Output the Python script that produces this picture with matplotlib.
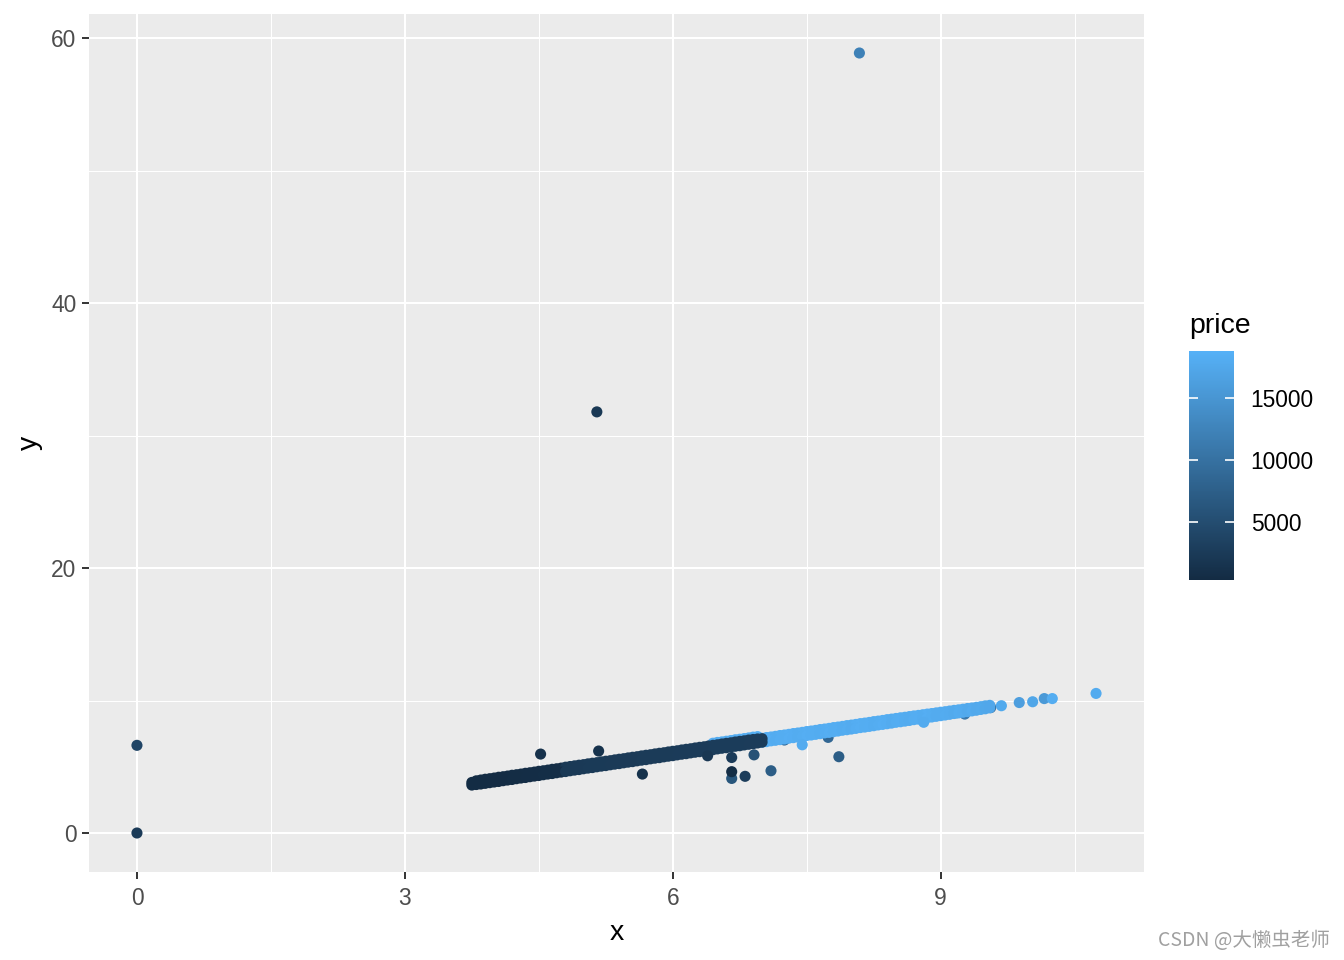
import matplotlib
matplotlib.use("Agg")
import matplotlib.pyplot as plt
from matplotlib.colors import LinearSegmentedColormap, Normalize
from matplotlib.cm import ScalarMappable

plt.rcParams["font.family"] = ["Liberation Sans", "DejaVu Sans"]

# --- data (x, y, price) ---

# medium-priced points peeking out under the light band
mid_x = [7.25, 7.74, 9.18, 9.27, 9.56]
mid_y = [7.02, 7.22, 9.08, 8.98, 9.47]
mid_price = [9000, 8500, 10000, 11000, 8000]

# expensive stones: x along the band, upper / lower edge y, price
light_x = [6.45, 6.50, 6.55, 6.60, 6.65, 6.70, 6.75, 6.80, 6.85, 6.90, 6.95,
           7.00, 7.05, 7.10, 7.15, 7.20, 7.25, 7.30, 7.35, 7.40, 7.45, 7.50,
           7.55, 7.60, 7.65, 7.70, 7.75, 7.80, 7.85, 7.90, 7.95, 8.00, 8.05,
           8.10, 8.15, 8.20, 8.25, 8.30, 8.35, 8.40, 8.45, 8.50, 8.55, 8.60,
           8.65, 8.70, 8.75, 8.80, 8.85, 8.90, 8.95, 9.00, 9.05, 9.10, 9.15,
           9.20, 9.25, 9.30, 9.35, 9.40, 9.45, 9.50, 9.55]
light_hi_y = [6.78, 6.84, 6.88, 6.93, 6.98, 7.04, 7.08, 7.13, 7.18, 7.24, 7.28,
              7.15, 7.21, 7.25, 7.30, 7.36, 7.40, 7.45, 7.51, 7.55, 7.60, 7.66,
              7.70, 7.75, 7.81, 7.85, 7.90, 7.96, 8.00, 8.05, 8.11, 8.15, 8.20,
              8.26, 8.30, 8.35, 8.41, 8.45, 8.50, 8.56, 8.60, 8.65, 8.70, 8.74,
              8.79, 8.84, 8.88, 8.93, 8.98, 9.02, 9.07, 9.12, 9.16, 9.21, 9.26,
              9.30, 9.35, 9.40, 9.44, 9.49, 9.54, 9.60, 9.64]
light_lo_y = [6.35, 6.40, 6.45, 6.50, 6.55, 6.60, 6.65, 6.70, 6.75, 6.80, 6.85,
              6.85, 6.90, 6.96, 7.00, 7.05, 7.10, 7.16, 7.20, 7.25, 7.30, 7.36,
              7.40, 7.45, 7.50, 7.56, 7.60, 7.65, 7.70, 7.76, 7.80, 7.85, 7.90,
              7.96, 8.00, 8.05, 8.10, 8.16, 8.20, 8.25, 8.30, 8.36, 8.40, 8.45,
              8.50, 8.56, 8.60, 8.65, 8.71, 8.76, 8.81, 8.86, 8.91, 8.96, 9.02,
              9.07, 9.12, 9.17, 9.22, 9.27, 9.33, 9.38, 9.45]
light_price = [18300, 18100, 18400, 18200, 18300, 18000, 18400, 18200, 18300,
               18100, 18500, 18200, 18300, 18400, 18100, 18300, 18200, 18400,
               18300, 18100, 18200, 18400, 18300, 18200, 18100, 18300, 18400,
               18200, 18300, 18100, 18200, 18000, 18300, 18400, 18200, 18300,
               18100, 18200, 18400, 18300, 18000, 18200, 18300, 18100, 18000,
               18200, 18300, 18100, 18400, 18200, 18000, 17900, 18100, 18000,
               17800, 18100, 17900, 17700, 17900, 17600, 17800, 17500, 17400]

# cheap stones: x along the band, upper / lower edge y, price
dark_x = [3.75, 3.80, 3.85, 3.90, 3.95, 4.00, 4.05, 4.10, 4.15, 4.20, 4.25,
          4.30, 4.35, 4.40, 4.45, 4.50, 4.55, 4.60, 4.65, 4.70, 4.75, 4.80,
          4.85, 4.90, 4.95, 5.00, 5.05, 5.10, 5.15, 5.20, 5.25, 5.30, 5.35,
          5.40, 5.45, 5.50, 5.55, 5.60, 5.65, 5.70, 5.75, 5.80, 5.85, 5.90,
          5.95, 6.00, 6.05, 6.10, 6.15, 6.20, 6.25, 6.30, 6.35, 6.40, 6.45,
          6.50, 6.55, 6.60, 6.65, 6.70, 6.75, 6.80, 6.85, 6.90, 6.95, 7.00]
dark_hi_y = [3.82, 3.94, 4.00, 4.06, 4.10, 4.15, 4.21, 4.25, 4.30, 4.36, 4.40,
             4.45, 4.51, 4.55, 4.60, 4.66, 4.70, 4.75, 4.81, 4.85, 4.90, 4.97,
             5.02, 5.07, 5.12, 5.16, 5.22, 5.27, 5.31, 5.37, 5.42, 5.46, 5.52,
             5.57, 5.61, 5.67, 5.72, 5.76, 5.82, 5.87, 5.91, 5.97, 6.02, 6.06,
             6.12, 6.17, 6.21, 6.27, 6.32, 6.36, 6.42, 6.47, 6.51, 6.57, 6.62,
             6.66, 6.72, 6.77, 6.81, 6.87, 6.92, 6.96, 7.02, 7.06, 7.10, 7.12]
dark_lo_y = [3.62, 3.66, 3.70, 3.75, 3.80, 3.85, 3.89, 3.95, 4.00, 4.04, 4.10,
             4.15, 4.19, 4.25, 4.30, 4.34, 4.40, 4.45, 4.49, 4.55, 4.60, 4.64,
             4.70, 4.75, 4.79, 4.85, 4.90, 4.94, 5.00, 5.05, 5.09, 5.15, 5.20,
             5.24, 5.30, 5.35, 5.39, 5.45, 5.50, 5.54, 5.60, 5.65, 5.69, 5.75,
             5.80, 5.84, 5.90, 5.95, 5.99, 6.05, 6.10, 6.14, 6.20, 6.25, 6.29,
             6.35, 6.40, 6.44, 6.50, 6.55, 6.59, 6.65, 6.70, 6.74, 6.80, 6.86]
dark_price = [400, 410, 430, 450, 460, 480, 500, 520, 540, 560, 580,
              600, 620, 640, 660, 680, 700, 720, 740, 770, 800,
              2250, 2270, 2300, 2320, 2340, 2360, 2380, 2400, 2410, 2420,
              2430, 2440, 2450, 2460, 2470, 2480, 2490, 2500, 2500, 2510,
              2520, 2530, 2540, 2550, 2560, 2570, 2580, 2590, 2600, 2600,
              2610, 2620, 2630, 2640, 2650, 2660, 2670, 2680, 2690, 2700,
              2710, 2720, 2730, 2740, 2750]

# stray points off the main band
out_x = [0.00, 0.00, 5.15, 8.09, 4.52, 5.17, 5.66, 6.39, 6.66, 6.66, 6.66,
         6.81, 6.91, 7.10, 7.45, 7.86, 8.81, 9.68, 9.88, 10.03, 10.16, 10.25, 10.74]
out_y = [0.00, 6.62, 31.80, 58.90, 5.96, 6.19, 4.45, 5.83, 5.70, 4.12, 4.63,
         4.28, 5.90, 4.70, 6.66, 5.76, 8.36, 9.61, 9.85, 9.91, 10.15, 10.15, 10.54]
out_price = [2500, 4000, 2075, 12210, 1200, 1300, 1300, 2000, 2600, 6200, 600,
             2800, 5600, 7200, 18000, 7200, 18000, 17800, 16200, 17300, 15500,
             18200, 18000]

PRICE_MIN, PRICE_MAX = 326, 18823

gg_blue = LinearSegmentedColormap.from_list("gg_blue", ["#132B43", "#56B1F7"])
norm = Normalize(PRICE_MIN, PRICE_MAX)

fig = plt.figure(figsize=(13.44, 9.6), dpi=100)
ax = fig.add_axes([89 / 1344, 88 / 960, 1055 / 1344, 858 / 960])
ax.set_facecolor("#EBEBEB")
for s in ax.spines.values():
    s.set_visible(False)

point_kw = dict(cmap=gg_blue, norm=norm, s=64, linewidths=0, zorder=3)
for xs, ys, ps in [
    (mid_x, mid_y, mid_price),
    (light_x, light_hi_y, light_price),
    (light_x, light_lo_y, light_price),
    (dark_x, dark_hi_y, dark_price),
    (dark_x, dark_lo_y, dark_price),
    (out_x, out_y, out_price),
]:
    ax.scatter(xs, ys, c=ps, **point_kw)

ax.set_xlim(-0.537, 11.277)
ax.set_ylim(-2.945, 61.845)
ax.set_xticks([0, 3, 6, 9])
ax.set_xticks([1.5, 4.5, 7.5, 10.5], minor=True)
ax.set_yticks([0, 20, 40, 60])
ax.set_yticks([10, 30, 50], minor=True)
ax.grid(which="major", color="white", linewidth=1.5, zorder=0)
ax.grid(which="minor", color="white", linewidth=0.75, zorder=0)
ax.set_axisbelow(True)
ax.tick_params(which="major", length=5, width=1.4, color="#333333",
               labelcolor="#4D4D4D", labelsize=16.4)
ax.tick_params(axis="x", which="major", pad=6)
ax.tick_params(axis="y", which="major", pad=4)
ax.tick_params(which="minor", length=0)
ax.set_xlabel("x", fontsize=20.5, labelpad=7)
ax.set_ylabel("y", fontsize=20.5, labelpad=6)

# legend colourbar
cax = fig.add_axes([1189 / 1344, 380 / 960, 45 / 1344, 229 / 960])
cb = fig.colorbar(ScalarMappable(norm=norm, cmap=gg_blue), cax=cax,
                  ticks=[5000, 10000, 15000])
cb.outline.set_visible(False)
cax.tick_params(axis="y", direction="in", left=True, right=True, length=6.5,
                width=1.2, color="white", labelcolor="black", labelsize=16.4,
                labelleft=False, labelright=True, pad=12)
fig.text(1189 / 1344, 1 - 333 / 960, "price", fontsize=20.5,
         ha="left", va="baseline")

fig.text(1330 / 1344, 1 - 941 / 960, "CSDN @大懒虫老师", fontsize=14,
         color="#A0A0A0", ha="right", va="center",
         family=["Noto Sans CJK SC", "DejaVu Sans"])

fig.savefig("out.png", dpi=100)
